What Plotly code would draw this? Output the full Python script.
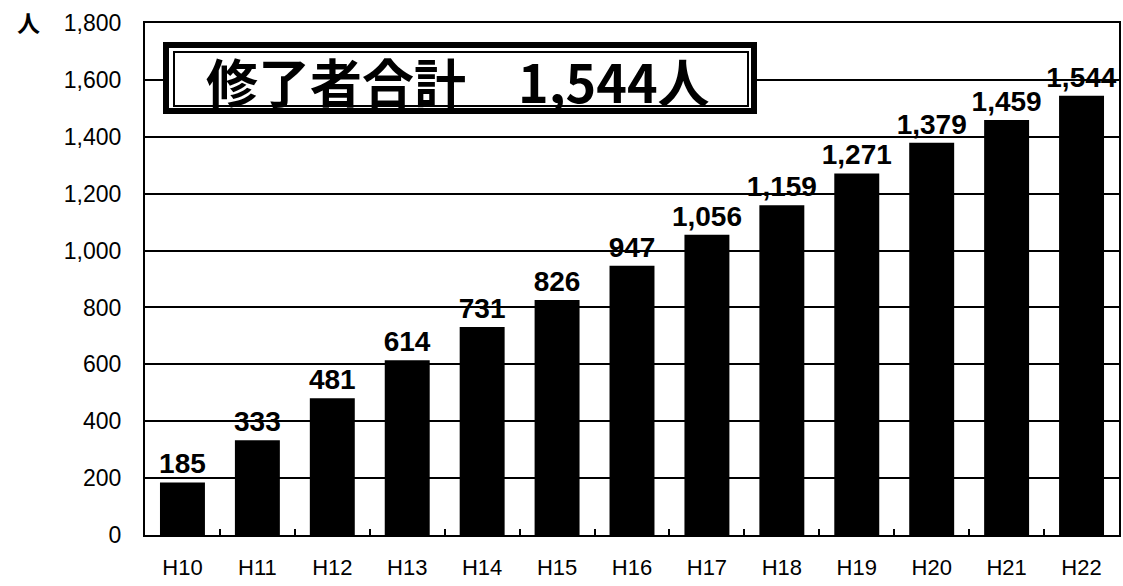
import plotly.graph_objects as go

# Fiscal years (Heisei) and cumulative number of course completers
years = ["H10", "H11", "H12", "H13", "H14", "H15", "H16",
         "H17", "H18", "H19", "H20", "H21", "H22"]
completers = [185, 333, 481, 614, 731, 826, 947,
              1056, 1159, 1271, 1379, 1459, 1544]
y_ticks = [0, 200, 400, 600, 800, 1000, 1200, 1400, 1600, 1800]
total_label = "修了者合計　1,544人"

W, H = 1123, 586
ML, MR, MT, MB = 145, 4, 23, 51
PW, PH = W - ML - MR, H - MT - MB


def px_x(x):
    return (x - ML) / PW


def px_y(y):
    return (H - MB - y) / PH


fig = go.Figure(
    go.Bar(
        x=years,
        y=completers,
        marker=dict(color="black", line=dict(width=0)),
        texttemplate="%{y:,}",
        textposition="outside",
        constraintext="none",
        cliponaxis=False,
        textfont=dict(family="Liberation Sans, Arial", size=28,
                      color="black", weight="bold"),
    )
)

fig.update_layout(
    width=W,
    height=H,
    margin=dict(l=ML, r=MR, t=MT, b=MB),
    paper_bgcolor="white",
    plot_bgcolor="white",
    bargap=0.4,
    showlegend=False,
    font=dict(family="Liberation Sans, Arial", color="black"),
)

fig.update_xaxes(
    showline=True, linecolor="black", linewidth=2, mirror=True,
    ticks="inside", tickson="boundaries", ticklen=6, tickwidth=2,
    tickcolor="black",
    tickfont=dict(size=22, color="black"),
    ticklabelstandoff=12,
    showgrid=False,
    automargin=False,
)

fig.update_yaxes(
    range=[0, 1800],
    tickvals=y_ticks,
    tickformat=",",
    showline=True, linecolor="black", linewidth=2, mirror=True,
    ticks="",
    tickfont=dict(size=23, color="black"),
    ticklabelstandoff=17,
    showgrid=True, gridcolor="black", gridwidth=2,
    zeroline=False,
    automargin=False,
)

# Double-bordered total box
fig.add_shape(type="rect", xref="paper", yref="paper",
              x0=px_x(166), x1=px_x(754), y0=px_y(111), y1=px_y(45),
              line=dict(color="black", width=6), fillcolor="white",
              layer="above")
fig.add_shape(type="rect", xref="paper", yref="paper",
              x0=px_x(174), x1=px_x(748), y0=px_y(106), y1=px_y(52),
              line=dict(color="black", width=2), fillcolor="white",
              layer="above")

fig.add_annotation(
    text=total_label, xref="paper", yref="paper",
    x=px_x(458), y=px_y(80), xanchor="center", yanchor="middle",
    showarrow=False,
    font=dict(family="Noto Sans CJK JP", size=52, color="black",
              weight="bold"),
)

# Unit label for the value axis
fig.add_annotation(
    text="人", xref="paper", yref="paper",
    x=px_x(28), y=px_y(22), xanchor="center", yanchor="middle",
    showarrow=False,
    font=dict(family="Noto Sans CJK JP", size=23, color="black",
              weight="bold"),
)

fig.write_html("out.html")
